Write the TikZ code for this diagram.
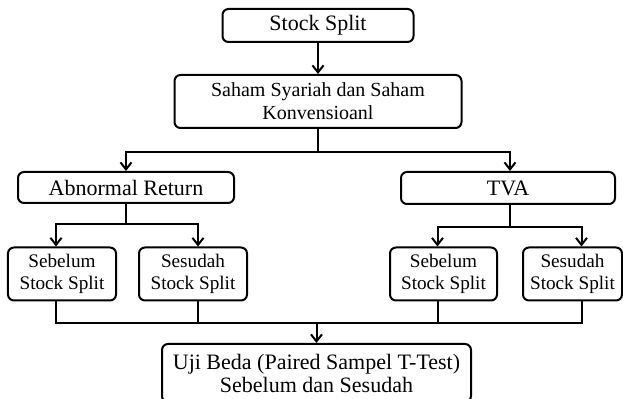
\documentclass[tikz,border=0pt]{standalone}
\usepackage{fontspec}
\setmainfont{Liberation Serif}
\usetikzlibrary{arrows.meta}

\tikzset{
  >={Straight Barb[length=3.5pt,width=5.5pt]},
  box/.style={draw, rounded corners=3pt, line width=1pt, align=center, inner sep=0pt},
  bigtext/.style={font=\fontsize{11}{11.5}\selectfont},
  midtext/.style={font=\fontsize{10}{11.5}\selectfont},
  smalltext/.style={font=\fontsize{9.6}{11}\selectfont},
  child/.style={box, smalltext, minimum width=54pt, minimum height=26.5pt}
}

\begin{document}
\begin{tikzpicture}[x=0.5pt, y=-0.5pt, line width=1pt]
  \clip (0,0) rectangle (623,399);

  \node[box, bigtext, minimum width=95.5pt, minimum height=16.5pt] (stocksplit) at (318,25.5) {Stock Split};
  \node[box, midtext, minimum width=143.5pt, minimum height=26.5pt] (saham) at (318,101.5) {Saham Syariah dan Saham\\Konvensioanl};

  \node[box, bigtext, minimum width=108pt, minimum height=15.5pt] (abnormal) at (126,187.5) {Abnormal Return};
  \node[box, bigtext, minimum width=107pt, minimum height=16pt] (tva) at (508,188) {TVA};

  \node[child] (sebelumA) at (62,274) {Sebelum\\Stock Split};
  \node[child] (sesudahA) at (193,274) {Sesudah\\Stock Split};
  \node[child, minimum width=53.5pt] (sebelumB) at (443.5,274) {Sebelum\\Stock Split};
  \node[child, minimum width=49.5pt] (sesudahB) at (572.5,274) {Sesudah\\Stock Split};

  \node[box, bigtext, minimum width=154.5pt, minimum height=29pt] (uji) at (316.5,373) {Uji Beda (Paired Sampel T-Test)\\Sebelum dan Sesudah};

  \draw[->] (stocksplit) -- (saham);
  \draw[->] (saham.south) -- ++(0,23) -| (abnormal.north);
  \draw[->] (saham.south) -- ++(0,23) -| ([xshift=1pt]tva.north);

  \draw[->] (abnormal.south) -- ++(0,20) -| ([xshift=-3pt]sebelumA.north);
  \draw[->] (abnormal.south) -- ++(0,20) -| ([xshift=2.5pt]sesudahA.north);
  \draw[->] ([xshift=1pt]tva.south) -- ++(0,22) -| ([xshift=-3pt]sebelumB.north);
  \draw[->] ([xshift=1pt]tva.south) -- ++(0,22) -| ([xshift=4.5pt]sesudahB.north);

  \coordinate (join) at (316.5,323);
  \draw ([xshift=-3pt]sebelumA.south) |- (join) -| ([xshift=4.5pt]sesudahB.south);
  \draw ([xshift=2.5pt]sesudahA.south) |- (join);
  \draw ([xshift=-3pt]sebelumB.south) |- (join);
  \draw[->] (join) -- (uji.north);
\end{tikzpicture}
\end{document}
